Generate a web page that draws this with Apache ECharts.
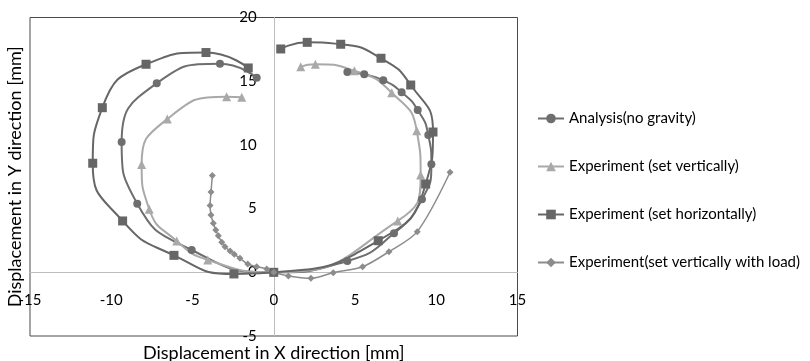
<!DOCTYPE html>
<html><head><meta charset="utf-8">
<script src="https://cdn.jsdelivr.net/npm/echarts@6/dist/echarts.min.js"></script>
<style>html,body{margin:0;padding:0;background:#fff}#c{width:810px;height:361px}</style>
</head><body><div id="c"></div>
<script>
const seriesNames = ['Analysis(no gravity)','Experiment (set vertically)','Experiment (set horizontally)','Experiment(set vertically with load)'];
const analysisX = [-1.05,-3.31,-7.20,-9.36,-8.40,-5.05,0,4.53,7.40,9.12,9.70,9.51,8.86,7.87,6.74,5.57,4.53];
const analysisY = [15.27,16.37,14.84,10.23,5.38,1.75,0,0.89,3.06,5.73,8.48,10.78,12.74,14.13,15.07,15.54,15.72];
const verticalX = [-1.97,-2.90,-6.55,-8.13,-7.66,-5.97,-4.06,0,7.63,9.04,8.80,7.26,4.96,2.56,1.66];
const verticalY = [13.74,13.78,12.03,8.46,4.95,2.46,0.97,0,4.03,7.64,11.11,14.10,15.82,16.33,16.14];
const horizontalX = [-1.57,-4.17,-7.86,-10.55,-11.14,-9.30,-6.14,-2.45,0,6.43,9.35,9.80,8.43,6.60,4.12,2.06,0.43];
const horizontalY = [16.04,17.25,16.33,12.92,8.56,4.03,1.33,-0.13,0,2.48,6.93,11.01,14.70,16.80,17.90,18.05,17.53];
const loadX = [-3.78,-3.86,-3.92,-3.86,-3.72,-3.57,-3.41,-3.20,-3.00,-2.69,-2.43,-2.08,-1.60,-1.05,-0.43,0,0.90,2.29,3.66,5.47,7.09,8.83,10.85];
const loadY = [7.60,6.30,5.24,4.50,3.85,3.32,2.87,2.35,2.01,1.67,1.41,1.10,0.65,0.44,0.26,0,-0.29,-0.47,-0.03,0.44,1.62,3.19,7.85];
const xTicks = {min:-15,max:15,interval:5};
const yTicks = {min:-5,max:20,interval:5};
const xName = 'Displacement in X direction [mm]';
const yName = 'Displacement in Y direction [mm]';

function pairs(xs, ys){ return xs.map((x,i)=>[x, ys[i]]); }
const FONT = 'Lato';
const GRID = {left:30, right:292.5, top:17.5, bottom:25};
const W = 810, H = 361;
// axis offsets so that the axes (line + labels) sit on the zero lines
const plotW = W - GRID.left - GRID.right, plotH = H - GRID.top - GRID.bottom;
const zeroXpx = GRID.left + (0 - xTicks.min) / (xTicks.max - xTicks.min) * plotW;
const zeroYpx = GRID.top + (yTicks.max - 0) / (yTicks.max - yTicks.min) * plotH;
const xOffset = -((H - GRID.bottom) - zeroYpx);
const yOffset = -(zeroXpx - GRID.left);

const chart = echarts.init(document.getElementById('c'), null, {renderer:'canvas'});
const mk = (name, xs, ys, color, symbol, size, width, smooth) => ({
  name, type:'line', data: pairs(xs, ys), smooth, symbol, symbolSize:size, showAllSymbol:true,
  lineStyle:{color, width}, itemStyle:{color}, color, animation:false
});
chart.setOption({
  animation:false,
  grid:Object.assign({show:true,borderColor:'#4a4a4a',borderWidth:1,containLabel:false,outerBoundsMode:'none'}, GRID),
  legend:{orient:'vertical',left:537,top:111,padding:0,itemWidth:26,itemHeight:12,itemGap:33,
    textStyle:{fontFamily:FONT,fontSize:15,color:'#000'},
    data: seriesNames},
  xAxis:{type:'value',min:xTicks.min,max:xTicks.max,interval:xTicks.interval,position:'bottom',offset:xOffset,
    axisLine:{onZero:false,lineStyle:{color:'#bdbdbd',width:1}},axisTick:{show:false},splitLine:{show:false},
    axisLabel:{margin:20,fontFamily:FONT,fontSize:15,color:'#000'},
    name:xName,nameLocation:'middle',nameGap:72,nameTextStyle:{fontFamily:FONT,fontSize:18,color:'#000'}},
  yAxis:{type:'value',min:yTicks.min,max:yTicks.max,interval:yTicks.interval,position:'left',offset:yOffset,
    axisLine:{onZero:false,lineStyle:{color:'#bdbdbd',width:1}},axisTick:{show:false},splitLine:{show:false},
    axisLabel:{margin:17,fontFamily:FONT,fontSize:15,color:'#000'},
    name:yName,nameLocation:'middle',nameGap:250,nameTextStyle:{fontFamily:FONT,fontSize:18,color:'#000'}},
  series:[
    mk(seriesNames[0], analysisX, analysisY, '#6e6e6e', 'circle', 8, 2, 0.55),
    mk(seriesNames[1], verticalX, verticalY, '#a9a9a9', 'triangle', 9, 2, 0.55),
    mk(seriesNames[2], horizontalX, horizontalY, '#666666', 'rect', 9, 2, 0.55),
    mk(seriesNames[3], loadX, loadY, '#8c8c8c', 'diamond', 7, 1.5, 0.3)
  ]
});
</script></body></html>
